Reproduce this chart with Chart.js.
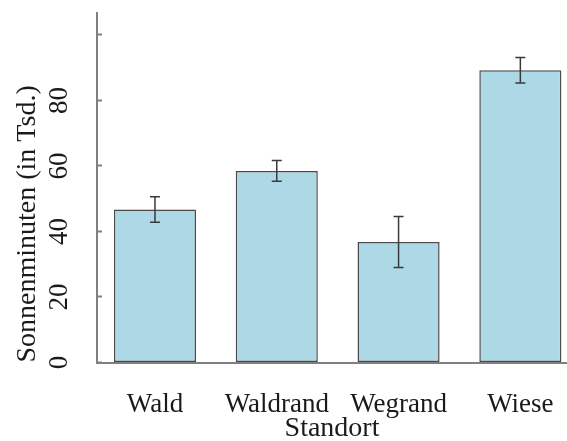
<!DOCTYPE html>
<html>
<head>
<meta charset="utf-8">
<script src="https://cdn.jsdelivr.net/npm/chart.js@4/dist/chart.umd.min.js"></script>
<style>
  html, body { margin: 0; padding: 0; background: #fff; overflow: hidden; }
  #wrap { width: 567px; height: 441px; }
</style>
</head>
<body>
<div id="wrap"><canvas id="myChart" width="567" height="441"></canvas></div>
<script>
const standorte = ["Wald", "Waldrand", "Wegrand", "Wiese"];
const mittelwerte = [46.7, 58.5, 36.8, 89.2];
const fehler = [3.9, 3.15, 7.8, 3.9];
const yTicks = [0, 20, 40, 60, 80, 100];

const schrift = "'Liberation Serif', 'Times New Roman', serif";
const textFarbe = "#1a1a1a";
const achsenFarbe = "#808080";

// Fehlerbalken über die Skalen zeichnen
const fehlerbalken = {
  id: "fehlerbalken",
  afterDatasetsDraw(chart) {
    const ctx = chart.ctx;
    const x = chart.scales.x;
    const y = chart.scales.y;
    ctx.save();
    ctx.strokeStyle = "#3a3a3a";
    ctx.lineWidth = 1.5;
    mittelwerte.forEach((m, i) => {
      const px = x.getPixelForValue(i);
      const oben = y.getPixelForValue(m + fehler[i]);
      const unten = y.getPixelForValue(m - fehler[i]);
      ctx.beginPath();
      ctx.moveTo(px, oben);
      ctx.lineTo(px, unten);
      ctx.moveTo(px - 5, oben);
      ctx.lineTo(px + 5, oben);
      ctx.moveTo(px - 5, unten);
      ctx.lineTo(px + 5, unten);
      ctx.stroke();
    });
    ctx.restore();
  },
};

const ctx = document.getElementById("myChart").getContext("2d");
new Chart(ctx, {
  type: "bar",
  data: {
    datasets: [
      {
        data: standorte.map((s, i) => ({ x: i, y: mittelwerte[i] })),
        backgroundColor: "#ADD8E6",
        borderColor: "#4a4a4a",
        borderWidth: 1.5,
        borderSkipped: false,
        barPercentage: 0.674,
        categoryPercentage: 1,
      },
    ],
  },
  options: {
    responsive: false,
    animation: false,
    layout: { padding: { top: 13, left: 0, right: 0, bottom: 0 } },
    plugins: {
      legend: { display: false },
      tooltip: { enabled: false },
    },
    scales: {
      x: {
        type: "linear",
        offset: false,
        min: -0.476,
        max: 3.383,
        grid: { display: false },
        border: { display: true, color: achsenFarbe, width: 2 },
        afterBuildTicks: (scale) => {
          scale.ticks = standorte.map((s, i) => ({ value: i }));
        },
        afterFit: (scale) => {
          scale.height = 78.5;
          scale.paddingLeft = 0;
          scale.paddingRight = 0;
        },
        ticks: {
          autoSkip: false,
          maxRotation: 0,
          padding: 18,
          color: textFarbe,
          font: { family: schrift, size: 27 },
          callback: (v) => standorte[v],
        },
        title: {
          display: true,
          text: "Standort",
          color: textFarbe,
          font: { family: schrift, size: 28 },
          padding: { top: 0, bottom: -4 },
        },
      },
      y: {
        min: 0,
        max: 106.7,
        grid: {
          drawOnChartArea: false,
          drawTicks: true,
          tickLength: -5,
          tickColor: achsenFarbe,
          tickWidth: 2,
        },
        border: { display: true, color: achsenFarbe, width: 2 },
        afterBuildTicks: (scale) => {
          scale.ticks = yTicks.map((v) => ({ value: v }));
        },
        afterFit: (scale) => {
          scale.width = 97;
          scale.paddingTop = 0;
          scale.paddingBottom = 0;
        },
        ticks: {
          autoSkip: false,
          minRotation: 90,
          maxRotation: 90,
          crossAlign: "center",
          padding: 29,
          color: textFarbe,
          font: { family: schrift, size: 27 },
          callback: (v) => (v === 100 ? "" : v),
        },
        title: {
          display: true,
          text: "Sonnenminuten (in Tsd.)",
          align: "start",
          color: textFarbe,
          font: { family: schrift, size: 28 },
          padding: { top: 11, bottom: 0 },
        },
      },
    },
  },
  plugins: [fehlerbalken],
});
</script>
</body>
</html>
